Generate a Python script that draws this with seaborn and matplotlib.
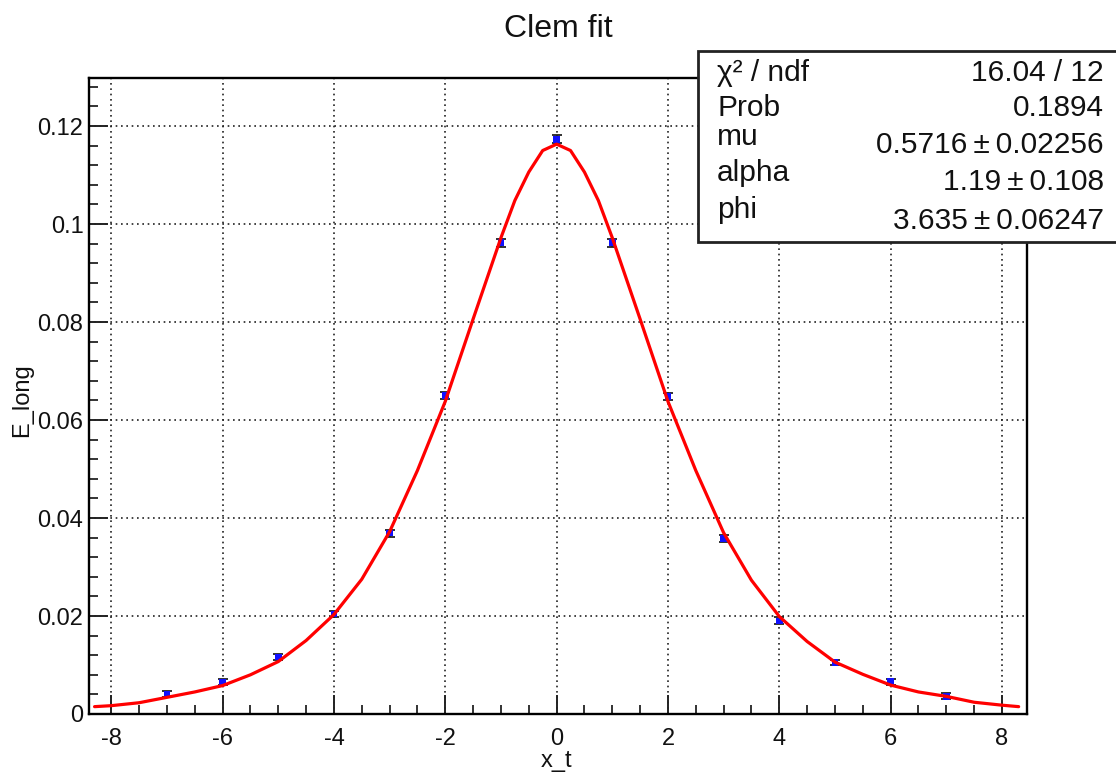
import numpy as np
import pandas as pd
import matplotlib
matplotlib.use("Agg")
import matplotlib.pyplot as plt
import seaborn as sns
from matplotlib.ticker import MultipleLocator, FuncFormatter
from matplotlib.patches import Rectangle

# ---- data ----
x_points = [-7, -6, -5, -4, -3, -2, -1, 0, 1, 2, 3, 4, 5, 6, 7]
y_points = [0.0041, 0.0065, 0.0116, 0.0204, 0.0369, 0.0650, 0.0962, 0.1173,
            0.0962, 0.0648, 0.0358, 0.0190, 0.0105, 0.0066, 0.0036]
y_errors = [0.0006, 0.0006, 0.0006, 0.0007, 0.0007, 0.0007, 0.0008, 0.0008,
            0.0008, 0.0007, 0.0007, 0.0007, 0.0006, 0.0006, 0.0006]

fit_x = [-8.3, -8.0, -7.5, -7.0, -6.5, -6.0, -5.5, -5.0, -4.5, -4.0, -3.5, -3.0,
         -2.5, -2.0, -1.5, -1.0, -0.75, -0.5, -0.25, 0.0, 0.25, 0.5, 0.75, 1.0,
         1.5, 2.0, 2.5, 3.0, 3.5, 4.0, 4.5, 5.0, 5.5, 6.0, 6.5, 7.0, 7.5, 8.0, 8.3]
fit_y = [0.0015, 0.0017, 0.0023, 0.0034, 0.0045, 0.0058, 0.0080, 0.0107, 0.0150,
         0.0203, 0.0275, 0.0372, 0.0497, 0.0638, 0.0806, 0.0972, 0.1048, 0.1106,
         0.1150, 0.1163, 0.1150, 0.1106, 0.1048, 0.0972, 0.0806, 0.0638, 0.0497,
         0.0370, 0.0273, 0.0199, 0.0148, 0.0106, 0.0081, 0.0059, 0.0045, 0.0036,
         0.0024, 0.0018, 0.0015]

stats_names = ["χ² / ndf", "Prob", "mu", "alpha", "phi"]
stats_values = ["16.04 / 12", "0.1894", "0.5716\u2009±\u20090.02256",
                "1.19\u2009±\u20090.108", "3.635\u2009±\u20090.06247"]

title = "Clem fit"
x_title = "x_t"
y_title = "E_long"

# ---- styling ----
sns.set_theme(style="white")
plt.rcParams["font.family"] = ["Liberation Sans", "DejaVu Sans"]
plt.rcParams["axes.unicode_minus"] = False

fig = plt.figure(figsize=(11.16, 7.74), dpi=100)
ax = fig.add_axes([89 / 1116, 1 - 714 / 774, (1027 - 89) / 1116, (714 - 78) / 774])

df_fit = pd.DataFrame({"x": fit_x, "y": fit_y})
df_pts = pd.DataFrame({"x": x_points, "y": y_points, "err": y_errors})

ax.errorbar(df_pts["x"], df_pts["y"], yerr=df_pts["err"], fmt="none",
            ecolor="#222222", elinewidth=1.3, capsize=3.5, capthick=1.3, zorder=3)
sns.scatterplot(data=df_pts, x="x", y="y", ax=ax, marker="s", s=22,
                color="#1010ff", edgecolor="none", zorder=4)
sns.lineplot(data=df_fit, x="x", y="y", ax=ax, color="#ff0000", linewidth=2.3,
             sort=False, estimator=None, zorder=5)

ax.set_xlim(-8.4, 8.45)
ax.set_ylim(0, 0.1298)

ax.xaxis.set_major_locator(MultipleLocator(2))
ax.xaxis.set_minor_locator(MultipleLocator(0.5))
ax.yaxis.set_major_locator(MultipleLocator(0.02))
ax.yaxis.set_minor_locator(MultipleLocator(0.004))
ax.yaxis.set_major_formatter(FuncFormatter(lambda v, p: "0" if abs(v) < 1e-9 else f"{v:g}"))
ax.xaxis.set_major_formatter(FuncFormatter(lambda v, p: f"{v:g}"))

ax.tick_params(axis="both", which="major", direction="in", length=14, width=1.4,
               color="#222222", labelsize=17, labelcolor="#111111")
ax.tick_params(axis="both", which="minor", direction="in", length=6.5, width=1.4,
               color="#333333")
ax.tick_params(axis="x", which="major", pad=10)
ax.tick_params(axis="y", which="major", pad=4)
ax.tick_params(top=False, right=False, which="both")
ax.tick_params(axis="x", which="both", bottom=True)
ax.tick_params(axis="y", which="both", left=True)

ax.grid(True, which="major", color="#222222", linestyle=(0, (1, 2.2)), linewidth=1.2)
for s in ax.spines.values():
    s.set_color("black")
    s.set_linewidth(1.7)
ax.set_facecolor("white")

ax.set_xlabel("")
ax.set_ylabel("")
fig.text(557 / 1116, 1 - 761 / 774, x_title, ha="center", va="center", fontsize=17,
         color="#111111")
fig.text(22 / 1116, 1 - 400 / 774, y_title, ha="center", va="center", fontsize=17,
         rotation=90, color="#111111")
fig.text(558 / 1116, 1 - 29 / 774, title, ha="center", va="center", fontsize=23,
         color="#111111")

# ---- stats box ----
box = Rectangle((698 / 1116, 1 - 242 / 774), (1118 - 698) / 1116, (242 - 51) / 774,
                transform=fig.transFigure, facecolor="white", edgecolor="#222222",
                linewidth=2.0, zorder=10)
fig.patches.append(box)
row_y = [73, 108, 145, 182, 221]
name_shift = [0, 0, -8, -9, -11]
for nm, val, ry, sh in zip(stats_names, stats_values, row_y, name_shift):
    fig.text(717 / 1116, 1 - (ry + sh) / 774, nm, ha="left", va="center",
             fontsize=21.5, zorder=11, color="#111111")
    fig.text(1104 / 1116, 1 - ry / 774, val, ha="right", va="center",
             fontsize=21.5, zorder=11, color="#111111")

fig.savefig("out.png", dpi=100, facecolor="white")
